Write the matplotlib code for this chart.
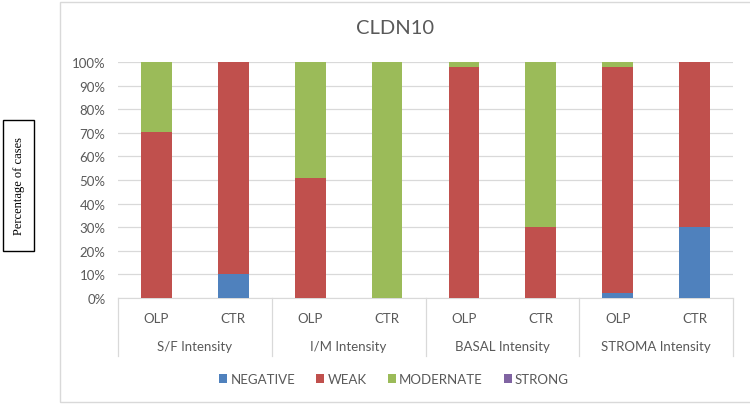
import numpy as np
import matplotlib.pyplot as plt
from matplotlib.patches import Rectangle
from matplotlib.lines import Line2D

groups = ["S/F Intensity", "I/M Intensity", "BASAL Intensity", "STROMA Intensity"]
subs = ["OLP", "CTR"]
series = ["NEGATIVE", "WEAK", "MODERNATE", "STRONG"]
colors = ["#4F81BD", "#C0504D", "#9BBB59", "#8064A2"]

negative = [0, 10, 0, 0, 0, 0, 2, 30]
weak = [70.5, 90, 51, 0, 98, 30, 96, 70]
moderate = [29.5, 0, 49, 100, 2, 70, 2, 0]
strong = [0, 0, 0, 0, 0, 0, 0, 0]

plt.rcParams['font.family'] = ['Lato', 'DejaVu Sans']
grey = "#595959"
line_c = "#d9d9d9"
fs = 9.5

fig = plt.figure(figsize=(7.5, 4.06), dpi=100)
W, H = 750, 406
ax = fig.add_axes([118 / W, 107 / H, 615 / W, 236 / H])

x = np.arange(len(negative))
bottom = np.zeros(len(x))
for vals, name, c in zip([negative, weak, moderate, strong], series, colors):
    ax.bar(x, vals, 0.4, bottom=bottom, color=c, label=name, zorder=3)
    bottom += np.array(vals)

ax.set_xlim(-0.5, len(x) - 0.5)
ax.set_ylim(0, 100)
ax.set_yticks(np.arange(0, 101, 10))
ax.set_yticklabels([f"{v}%" for v in range(0, 101, 10)], color=grey, fontsize=fs)
ax.yaxis.grid(True, color=line_c, lw=0.9, zorder=0)
ax.tick_params(length=0, pad=9)
for s in ["left", "right", "top"]:
    ax.spines[s].set_visible(False)
ax.spines["bottom"].set_color(line_c)

ax.set_xticks(x)
ax.set_xticklabels(subs * len(groups), color=grey, fontsize=fs)
ax.tick_params(axis="x", pad=10)

trans = ax.get_xaxis_transform()
for i, g in enumerate(groups):
    ax.text(2 * i + 0.5, -0.205, g, transform=trans, ha="center", va="center",
            color=grey, fontsize=fs)
for b in np.arange(-0.5, len(x), 2):
    ax.add_line(Line2D([b, b], [0, -0.245], transform=trans, color=line_c,
                       lw=0.9, clip_on=False))

fig.text(395 / W, 1 - 29 / H, "CLDN10", ha="center", va="center",
         fontsize=14.5, color=grey)

fig.legend(loc="center", bbox_to_anchor=(394 / W, 1 - 380 / H), ncol=4,
           frameon=False, fontsize=fs, handlelength=0.6, handleheight=0.6,
           handletextpad=0.25, columnspacing=1.6, labelcolor=grey)

fig.patches.append(Rectangle((60 / W, 3 / H), 700 / W, 400 / H, transform=fig.transFigure,
                             fill=False, edgecolor=line_c, lw=1))
fig.patches.append(Rectangle((3 / W, 1 - 252 / H), 31 / W, 131 / H, transform=fig.transFigure,
                             fill=False, edgecolor="black", lw=1))
fig.text(19 / W, 1 - 186 / H, "Percentage of cases", rotation=90, ha="center", va="center",
         fontsize=9, family="Liberation Serif", color="black")

fig.savefig("out.png", dpi=100)
